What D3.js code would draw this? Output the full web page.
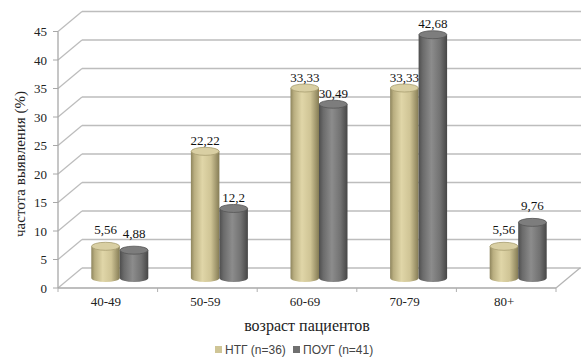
<!DOCTYPE html>
<html><head><meta charset="utf-8">
<script src="https://cdn.jsdelivr.net/npm/d3@7/dist/d3.min.js"></script>
<style>html,body{margin:0;padding:0;background:#fff;}svg{display:block;}</style>
</head><body>
<svg id="c" width="581" height="358"></svg>
<script>
const categories = ["40-49","50-59","60-69","70-79","80+"];
const seriesNames = ["НТГ (n=36)","ПОУГ (n=41)"];
const ntg  = [5.56, 22.22, 33.33, 33.33, 5.56];
const pouq = [4.88, 12.2, 30.49, 42.68, 9.76];
const yTicks = [0,5,10,15,20,25,30,35,40,45];
const valueLabels = [["5,56","22,22","33,33","33,33","5,56"],["4,88","12,2","30,49","42,68","9,76"]];
const yTitle = "частота выявления (%)";
const xTitle = "возраст пациентов";

const svg = d3.select("#c");
const DX = 24, DY = -20;
const y = d3.scaleLinear().domain([0,45]).range([288,31.5]);
const x = d3.scaleBand().domain(categories).range([58,556]);
const series = [ntg, pouq];

const defs = svg.append("defs");
const grads = [
  {id:"gT", stops:[["0%","#8e855d"],["12%","#b9ae80"],["40%","#e0d6a8"],["70%","#cfc495"],["100%","#857c55"]], top:"#d9cfa3", rim:"#a79d70"},
  {id:"gG", stops:[["0%","#4e4e4e"],["15%","#6b6b6b"],["45%","#8c8c8c"],["75%","#727272"],["100%","#464646"]], top:"#7d7d7d", rim:"#555"}
];
grads.forEach(g=>{
  const lg = defs.append("linearGradient").attr("id",g.id).attr("x1","0").attr("x2","1").attr("y1","0").attr("y2","0");
  g.stops.forEach(s=>lg.append("stop").attr("offset",s[0]).attr("stop-color",s[1]));
});

const gridC = "#bdbdbd";
// back wall gridlines
svg.append("g").selectAll("line").data(yTicks).join("line")
  .attr("x1",58+DX).attr("x2",580+DX).attr("y1",d=>y(d)+DY).attr("y2",d=>y(d)+DY)
  .attr("stroke",gridC).attr("stroke-width",1.3);
// side wall diagonals
svg.append("g").selectAll("line").data(yTicks).join("line")
  .attr("x1",58).attr("x2",58+DX).attr("y1",d=>y(d)).attr("y2",d=>y(d)+DY)
  .attr("stroke",gridC).attr("stroke-width",1.3);
// floor
svg.append("line").attr("x1",58).attr("x2",556).attr("y1",y(0)).attr("y2",y(0)).attr("stroke","#a8a8a8").attr("stroke-width",1.3);
svg.append("line").attr("x1",556).attr("x2",556+DX).attr("y1",y(0)).attr("y2",y(0)+DY).attr("stroke","#b5b5b5").attr("stroke-width",1.3);
// vertical axis
svg.append("line").attr("x1",58).attr("x2",58).attr("y1",y(45)).attr("y2",y(0)).attr("stroke","#a8a8a8").attr("stroke-width",1.3);
svg.append("g").selectAll("line").data(yTicks).join("line")
  .attr("x1",53).attr("x2",58).attr("y1",d=>y(d)).attr("y2",d=>y(d)).attr("stroke","#a8a8a8");
// x ticks
const bounds = categories.map(c=>x(c)).concat([x.range()[1]]);
svg.append("g").selectAll("line").data(bounds).join("line")
  .attr("x1",d=>d).attr("x2",d=>d).attr("y1",y(0)).attr("y2",y(0)+4).attr("stroke","#b0b0b0");

// y tick labels
svg.append("g").selectAll("text").data(yTicks).join("text")
  .attr("x",47).attr("y",d=>y(d)).attr("dy","0.35em").attr("text-anchor","end")
  .attr("font-family","Liberation Serif").attr("font-size",13).attr("fill","#222").text(d=>d);
// x tick labels
svg.append("g").selectAll("text").data(categories).join("text")
  .attr("x",d=>x(d)+x.bandwidth()/2-2).attr("y",306).attr("text-anchor","middle")
  .attr("font-family","Liberation Serif").attr("font-size",13).attr("fill","#222").text(d=>d);

// cylinders
const bw = 28.5, ry = 4;
const barsG = svg.append("g");
series.forEach((vals,si)=>{
  const g = grads[si];
  vals.forEach((v,i)=>{
    const cx = x(categories[i]) + x.bandwidth()/2 + DX/2 + (si===0 ? -bw/2 : bw/2);
    const top = y(v) + DY/2, bot = y(0) + DY/2;
    const l = cx-bw/2, r = cx+bw/2, rx = bw/2;
    barsG.append("path")
      .attr("d",`M${l},${top} L${l},${bot} A${rx},${ry} 0 0 0 ${r},${bot} L${r},${top} Z`)
      .attr("fill",`url(#${g.id})`);
    barsG.append("ellipse").attr("cx",cx).attr("cy",top).attr("rx",rx-0.3).attr("ry",ry)
      .attr("fill",g.top).attr("stroke",g.rim).attr("stroke-width",0.8);
    barsG.append("text").attr("x",cx).attr("y",top-(v<11?17:11)).attr("dy","0.35em").attr("text-anchor","middle")
      .attr("font-family","Liberation Serif").attr("font-size",13).attr("fill","#111").text(valueLabels[si][i]);
  });
});

// titles
svg.append("text").attr("transform","translate(20,164) rotate(-90)").attr("text-anchor","middle").attr("dy","0.35em")
  .attr("font-family","Liberation Serif").attr("font-size",15).attr("fill","#222").text(yTitle);
svg.append("text").attr("x",307).attr("y",331).attr("text-anchor","middle")
  .attr("font-family","Liberation Serif").attr("font-size",16).attr("fill","#222").text(xTitle);

// legend
const legX = [215, 293];
const swC = ["#cfc596","#707070"];
seriesNames.forEach((n,i)=>{
  svg.append("rect").attr("x",legX[i]).attr("y",346).attr("width",7).attr("height",7).attr("fill",swC[i]);
  svg.append("text").attr("x",legX[i]+10).attr("y",350).attr("dy","0.35em")
    .attr("font-family","Liberation Sans").attr("font-size",12).attr("fill","#444").text(n);
});
</script>
</body></html>
